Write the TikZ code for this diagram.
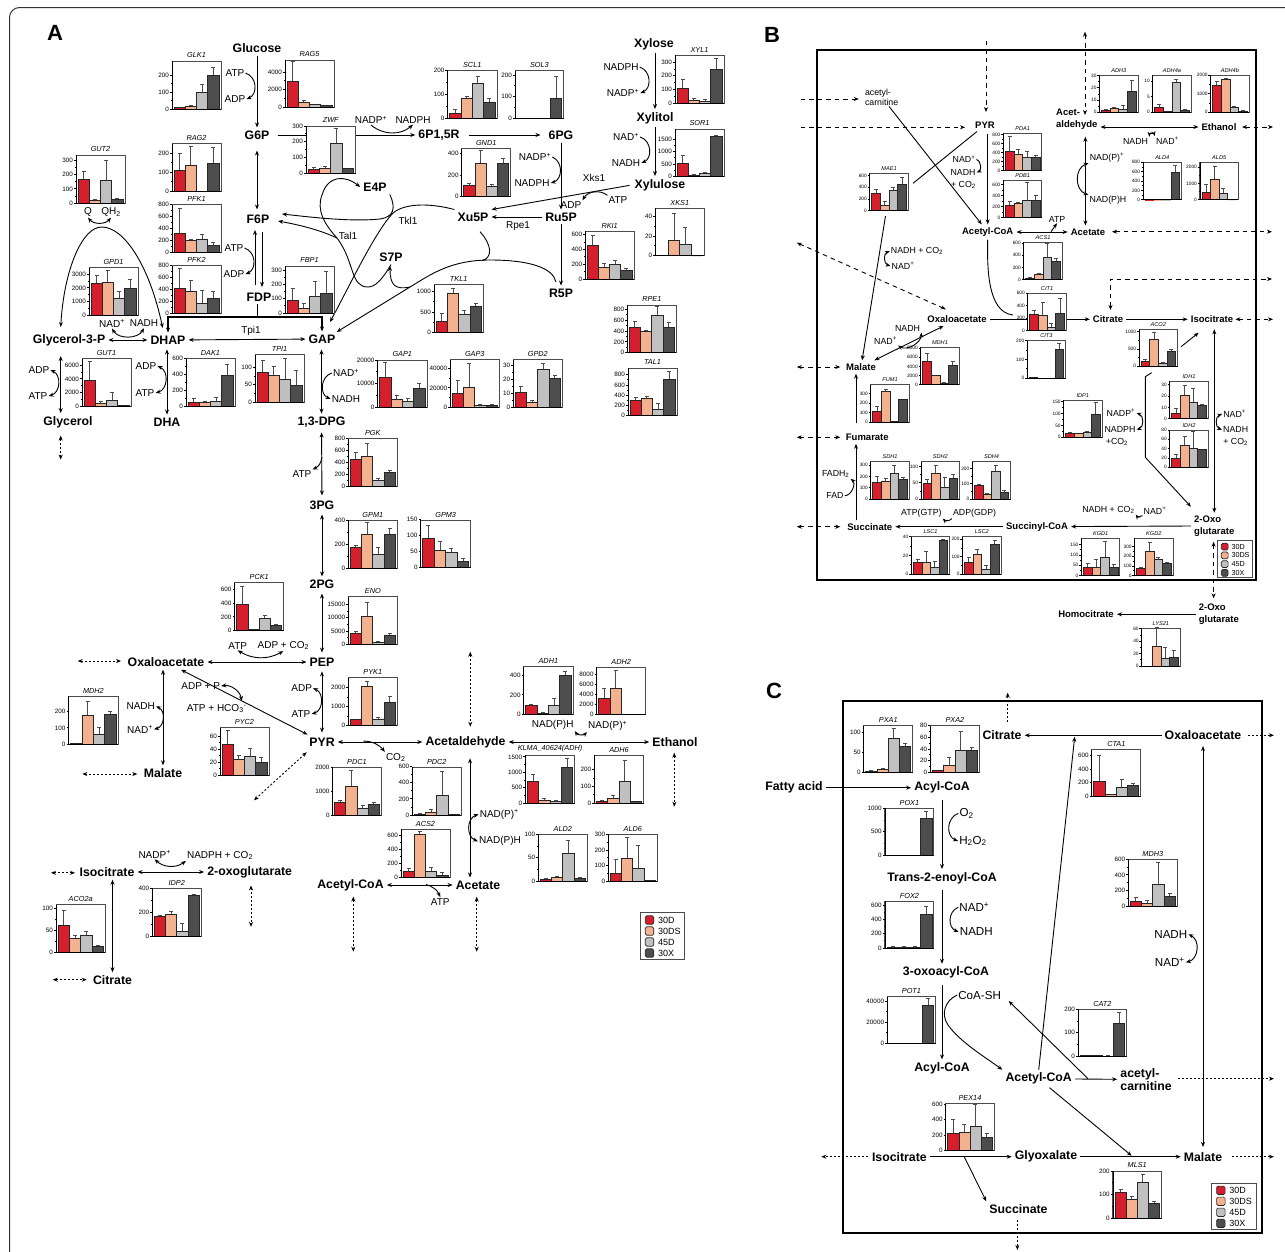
\documentclass[tikz,border=0pt]{standalone}
\usepackage{fontspec}
\setmainfont{Liberation Sans}
\usetikzlibrary{arrows.meta}

\definecolor{bar0}{HTML}{D51F2D}
\definecolor{bar1}{HTML}{F4B190}
\definecolor{bar2}{HTML}{C0C0C0}
\definecolor{bar3}{HTML}{4D4D4D}

\newcommand{\chart}[9]{%
  \begin{scope}[shift={(#3,#4)}]
    \draw[chartframe] (0,0) rectangle (#5,#6);
    \node[charttitle] (#1-title) at (#5/2,0) {#2};
    \pgfmathsetmacro{\barw}{(#5-4)/4}
    \foreach \barv/\bare [count=\n from 0] in {#9} {
      \pgfmathsetmacro{\barx}{2+\n*\barw}
      \pgfmathsetmacro{\barm}{\barx+\barw/2}
      \pgfmathsetmacro{\bartop}{#6-\barv/#7*#6}
      \pgfmathsetmacro{\errtop}{#6-\bare/#7*#6}
      \ifdim\bare pt>\barv pt
        \draw[errorbar] (\barm,\bartop) -- (\barm,\errtop) (\barm-2,\errtop) -- (\barm+2,\errtop);
      \fi
      \draw[barbox, fill=bar\n] (\barx,#6) rectangle (\barx+\barw,\bartop);
    }
    \draw[axisline] (0,0) -- (0,#6) -- (#5,#6);
    \foreach \tickv/\tickl [remember=\tickv as \lastv (initially 0)] in {#8} {
      \pgfmathsetmacro{\ticky}{#6-\tickv/#7*#6}
      \pgfmathsetmacro{\minory}{#6-(\tickv+\lastv)/2/#7*#6}
      \draw[axisline] (0,\ticky) -- (-2.2,\ticky) (0,\minory) -- (-1.2,\minory);
      \node[ticklabel] (#1-\tickl) at (-2.2,\ticky) {\tickl};
    }
  \end{scope}
}

\newcommand{\chartkey}[4]{%
  \begin{scope}[shift={(#2,#3)},scale=#4]
    \pgfmathsetmacro{\keysize}{9*#4}
    \draw[keyframe] (0,0) rectangle (44.5,46.5);
    \foreach \labl [count=\n from 0] in {30D,30DS,45D,30X} {
      \pgfmathsetmacro{\keyy}{7.3+11*\n}
      \draw[barbox, rounded corners=1.5pt, fill=bar\n] (5,\keyy-4.2) rectangle (13.5,\keyy+4.2);
      \node[anchor=west, inner sep=0pt, font=\fontsize{\keysize}{\keysize}\selectfont] (#1-\n) at (17.5,\keyy) {\labl};
    }
  \end{scope}
}

\newcommand{\freelink}[4]{%
  \coordinate (#1-a) at (#2);
  \coordinate (#1-b) at (#3);
  \draw[#4] (#1-a) -- (#1-b);
}

\begin{document}
\begin{tikzpicture}[
    x=1pt, y=-1pt,
    metab/.style={font=\fontsize{12.3}{13}\selectfont\bfseries, inner sep=3pt},
    metabb/.style={font=\fontsize{9.5}{11.6}\selectfont\bfseries, inner sep=3pt, align=left},
    cof/.style={font=\fontsize{10}{11}\selectfont, inner sep=1pt},
    cofb/.style={font=\fontsize{8.8}{10}\selectfont, inner sep=1pt},
    cofc/.style={font=\fontsize{11.6}{13}\selectfont, inner sep=1pt},
    letter/.style={font=\fontsize{22}{24}\selectfont\bfseries, inner sep=0pt},
    oneway/.style={-{Stealth[length=5pt,width=4pt]}, line width=.9pt},
    twoway/.style={{Stealth[length=5pt,width=4pt]}-{Stealth[length=5pt,width=4pt]}, line width=.9pt},
    plainline/.style={line width=.9pt},
    dashboth/.style={twoway, dash pattern=on 2pt off 2pt},
    dashone/.style={oneway, dash pattern=on 2pt off 2pt},
    longboth/.style={twoway, dash pattern=on 4.5pt off 4pt},
    longone/.style={oneway, dash pattern=on 4.5pt off 4pt},
    cofl/.style={bend left=70, looseness=1.2},
    cofr/.style={bend right=70, looseness=1.2},
    panelbox/.style={line width=2pt},
    chartframe/.style={draw=black!70, fill=white, line width=1pt},
    keyframe/.style={draw=black!70, fill=white, line width=1pt},
    axisline/.style={draw=black, line width=.8pt},
    barbox/.style={draw=black!85, line width=.7pt},
    errorbar/.style={draw=black!70, line width=.9pt},
    charttitle/.style={anchor=south, inner sep=3pt, font=\fontsize{7.3}{8}\selectfont\itshape},
    ticklabel/.style={anchor=east, inner sep=.8pt, font=\fontsize{6.3}{7}\selectfont}
  ]
  \useasboundingbox (0,0) rectangle (1285,1251);
  \draw[line width=1pt, black!80, rounded corners=10pt] (9.5,1260) -- (9.5,7.5) -- (1295,7.5);

  \node[letter] (lettera) at (55,33) {A};
  \node[letter] (letterb) at (772,35) {B};
  \node[letter] (letterc) at (774,691) {C};
  \draw[panelbox] (817,50) rectangle (1255.8,580);
  \draw[panelbox] (843,701) rectangle (1261.5,1233.3);

  \node[metab] (glucose) at (257,48) {Glucose};
  \node[metab] (g6p) at (257,135) {G6P};
  \node[metab] (f6p) at (258,219) {F6P};
  \node[metab] (fdp) at (259,297) {FDP};
  \node[metab] (gap) at (322,339) {GAP};
  \node[metab] (dhap) at (168,340) {DHAP};
  \node[metab] (g3p) at (69,340) {Glycerol-3-P};
  \node[metab] (glycerol) at (68,422) {Glycerol};
  \node[metab] (dha) at (167,422) {DHA};
  \node[metab] (dpg) at (321.5,422) {1,3-DPG};
  \node[metab] (pg3) at (322,505) {3PG};
  \node[metab] (pg2) at (322,584) {2PG};
  \node[metab] (pep) at (322,662) {PEP};
  \node[metab] (pyr) at (322,742) {PYR};
  \node[metab] (oaa) at (166,662) {Oxaloacetate};
  \node[metab] (malate) at (163,773) {Malate};
  \node[metab] (isocit) at (107,872) {Isocitrate};
  \node[metab] (oxoglut) at (249.7,872) {2-oxoglutarate};
  \node[metab] (citrate) at (112.5,980) {Citrate};
  \node[metab] (acald) at (465.5,742) {Acetaldehyde};
  \node[metab] (ethanol) at (675,742) {Ethanol};
  \node[metab] (acoa) at (350.5,885) {Acetyl-CoA};
  \node[metab] (acetate) at (478,885) {Acetate};
  \node[metab] (e4p) at (375,187) {E4P};
  \node[metab] (s7p) at (391,257) {S7P};
  \node[metab] (xu5p) at (473,217) {Xu5P};
  \node[metab] (ru5p) at (561,217) {Ru5P};
  \node[metab] (r5p) at (561,293) {R5P};
  \node[metab] (p6gl) at (439,135) {6P1,5R};
  \node[metab] (pg6) at (561,135) {6PG};
  \node[metab] (xylose) at (654,44) {Xylose};
  \node[metab] (xylitol) at (655,118) {Xylitol};
  \node[metab] (xylulose) at (660,185) {Xylulose};

  \node[cof] (atpa) at (235,73) {ATP};
  \node[cof] (adpa) at (235,99) {ADP};
  \node[cof] (atpb) at (234,248) {ATP};
  \node[cof] (adpb) at (234,274) {ADP};
  \node[cof] (nadpa) at (371,120) {NADP\textsuperscript{+}};
  \node[cof] (nadpha) at (413,120) {NADPH};
  \node[cof] (nadpb) at (535,157) {NADP\textsuperscript{+}};
  \node[cof] (nadphb) at (532,183) {NADPH};
  \node[cof] (nadphc) at (621,67) {NADPH};
  \node[cof] (nadpc) at (623,93) {NADP\textsuperscript{+}};
  \node[cof] (nada) at (626,137) {NAD\textsuperscript{+}};
  \node[cof] (nadha) at (626,163) {NADH};
  \node[cof] (xks) at (594,178) {Xks1};
  \node[cof] (atpc) at (618,200) {ATP};
  \node[cof] (adpc) at (571,205) {ADP};
  \node[cof] (rpe) at (518,226) {Rpe1};
  \node[cof] (tkl) at (408,221) {Tkl1};
  \node[cof] (tal) at (348,236) {Tal1};
  \node[cof] (tpi) at (251,331) {Tpi1};
  \node[cof] (q) at (88,212) {Q};
  \node[cof] (qh) at (111,212) {QH\textsubscript{2}};
  \node[cof] (nadb) at (112,323.5) {NAD\textsuperscript{+}};
  \node[cof] (nadhb) at (144,323.5) {NADH};
  \node[cof] (adpd) at (39,370) {ADP};
  \node[cof] (atpd) at (38,396) {ATP};
  \node[cof] (adpe) at (146,366) {ADP};
  \node[cof] (atpe) at (145,393) {ATP};
  \node[cof] (nadc) at (346,373) {NAD\textsuperscript{+}};
  \node[cof] (nadhc) at (346,399) {NADH};
  \node[cof] (atpf) at (302,474) {ATP};
  \node[cof] (atpg) at (237.7,645.7) {ATP};
  \node[cof] (adpg) at (283.3,645.7) {ADP + CO\textsubscript{2}};
  \node[cof] (adph) at (301.7,688.2) {ADP};
  \node[cof] (atph) at (301,714) {ATP};
  \node[cof] (adpi) at (200.7,686) {ADP + P};
  \node[cof] (atpi) at (216.7,708.6) {ATP + HCO\textsubscript{3}\textsuperscript{-}};
  \node[cof] (nadhd) at (140.7,706.3) {NADH};
  \node[cof] (nadd) at (140,729.3) {NAD\textsuperscript{+}};
  \node[cof] (nadpd) at (154.7,854.3) {NADP\textsuperscript{+}};
  \node[cof] (nadphd) at (220,855.4) {NADPH + CO\textsubscript{2}};
  \node[cof] (cotwo) at (395.7,757.3) {CO\textsubscript{2}};
  \node[cof] (nadpe) at (499.3,814.3) {NAD(P)\textsuperscript{+}};
  \node[cof] (nadphe) at (500,841.3) {NAD(P)H};
  \node[cof] (atpj) at (440.3,901.7) {ATP};
  \node[cof] (nadphf) at (552.7,725.3) {NAD(P)H};
  \node[cof] (nadpf) at (607.7,726) {NAD(P)\textsuperscript{+}};

  \draw[oneway] (glucose) -- (g6p);
  \draw[oneway, shorten <=5pt] (g6p) -- (p6gl);
  \draw[oneway, shorten <=6pt, shorten >=5pt] (p6gl) -- (pg6);
  \draw[oneway] (pg6) -- (ru5p);
  \draw[oneway] (ru5p) -- (xu5p);
  \draw[oneway] (ru5p) -- (r5p);
  \draw[oneway] (xylose.south -| xylitol) -- (xylitol);
  \draw[oneway] (xylitol) -- (xylulose.north -| xylitol);
  \draw[oneway, shorten <=2pt] (xylulose.west) -- (xu5p.north east);
  \draw[twoway, shorten <=8pt, shorten >=2pt] (g6p) -- (f6p.north -| g6p);
  \coordinate (fdpup) at (255,285);
  \coordinate (fdpupend) at (255,230);
  \draw[oneway] (fdpup) -- (fdpupend);
  \coordinate (fdpdown) at (262,232);
  \coordinate (fdpdownend) at (262,287);
  \draw[oneway] (fdpdown) -- (fdpdownend);
  \coordinate (fdpjoin) at (257,317);
  \draw[plainline] (fdp.south -| fdpjoin) -- (fdpjoin);
  \draw[oneway, line width=1.1pt] (fdpjoin) -| (dhap.north);
  \draw[oneway, line width=1.1pt] (fdpjoin) -| (gap.north);
  \draw[twoway] (g3p) -- (dhap);
  \draw[twoway] (dhap) -- (gap);
  \coordinate (glycv) at (60.7,356);
  \draw[twoway] (glycv) -- (glycv |- glycerol.north);
  \draw[twoway, shorten <=2pt] (dhap.south -| dha) -- (dha);
  \draw[twoway, shorten <=3pt] (gap.south -| dpg) -- (dpg);
  \draw[twoway, shorten <=2pt, shorten >=2pt] (dpg) -- (pg3);
  \draw[twoway, shorten <=2pt] (pg3) -- (pg2);
  \draw[twoway, shorten <=2pt, shorten >=2pt] (pg2) -- (pep);
  \draw[twoway, shorten <=2pt, shorten >=2pt] (pep) -- (pyr);
  \draw[twoway] (oaa) -- (pep);
  \draw[twoway] (oaa) -- (pyr);
  \draw[twoway] (pyr) -- (acald);
  \draw[twoway] (oaa.south -| malate) -- (malate);
  \draw[twoway] (isocit) -- (oxoglut);
  \draw[twoway] (isocit.south -| citrate) -- (citrate);
  \draw[twoway] (acoa) -- (acetate);
  \draw[twoway] (acald) -- (ethanol);
  \coordinate (acaldv) at (470,758.3);
  \draw[twoway] (acaldv) -- (acaldv |- acetate.north);

  \draw[oneway] (atpa.east) to[cofl] (adpa.east);
  \draw[oneway] (atpb.east) to[cofl] (adpb.east);
  \draw[oneway] (nadpa.south) to[bend right=40] (nadpha.south);
  \draw[oneway] (nadpb.east) to[cofl] (nadphb.east);
  \draw[oneway] (nadphc.east) to[cofl] (nadpc.east);
  \draw[oneway] (nada.east) to[cofl] (nadha.east);
  \draw[oneway] (atpc.north west) to[bend right=50] (adpc.north east);
  \draw[twoway] (q.south) to[bend right=50] (qh.south);
  \draw[twoway] (nadb.south) to[bend right=60] (nadhb.south);
  \draw[twoway] (adpd.east) to[cofl] (atpd.east);
  \draw[twoway] (adpe.east) to[cofl] (atpe.east);
  \draw[oneway] (nadc.west) to[cofr] (nadhc.west);
  \coordinate (atpfstart) at (322,457);
  \draw[oneway] (atpfstart) to[bend left=30] (atpf.north east);
  \draw[twoway] (atpg.south) to[bend right=30] (adpg.south);
  \draw[twoway] (adph.east) to[cofl] (atph.east);
  \coordinate (atpiin) at (241.7,701);
  \draw[twoway] (adpi.east) to[bend left=45] (atpiin);
  \draw[twoway] (nadhd.east) to[cofl] (nadd.east);
  \draw[twoway] (nadpd.south) to[bend right=40] (nadphd.south west);
  \coordinate (cotwostart) at (363.3,741);
  \draw[oneway] (cotwostart) to[bend left=25] (cotwo.north west);
  \draw[twoway] (nadpe.west) to[cofr] (nadphe.west);
  \coordinate (atpjstart) at (426,884.5);
  \draw[oneway] (atpjstart) to[bend left=25] (atpj.north);
  \draw[twoway] (nadphf.south east) to[bend right=50] (nadpf.south west);

  \coordinate (g3ptop) at (60.7,327);
  \coordinate (dhaptop) at (162.7,328);
  \draw[twoway] (g3ptop) .. controls (64,270) and (82,227) .. (101.7,227) .. controls (125,227) and (150,268) .. (dhaptop);
  \coordinate (f6pa) at (282,214);
  \coordinate (f6pb) at (278,221);
  \coordinate (gapa) at (330,322);
  \coordinate (gapb) at (336.7,332);
  \coordinate (talbr) at (337,238);
  \coordinate (r5pout) at (556,282);
  \coordinate (xuout) at (480,231.7);
  \coordinate (xujoin) at (481.7,260.7);
  \coordinate (s7pjoin) at (410,287);
  \coordinate (s7pin) at (390,266);
  \draw[oneway] (xu5p.north west) .. controls (430,203) and (405,203) .. (393,213) .. controls (375,232) and (350,285) .. (gapa);
  \draw[oneway] (e4p.south east) .. controls (396,208) and (394,217) .. (380,219) .. controls (350,222) and (310,217) .. (f6pa);
  \draw[oneway] (s7p.south) .. controls (382,280) and (375,287) .. (368,287) .. controls (350,287) and (355,262) .. (talbr) .. controls (325,225) and (316,210) .. (322,195) .. controls (328,175) and (345,175) .. (e4p.west);
  \draw[oneway] (talbr) .. controls (320,230) and (300,225) .. (f6pb);
  \draw[oneway] (r5pout) .. controls (553,268) and (530,260) .. (490,260) .. controls (450,260) and (430,275) .. (s7pjoin) -- (gapb);
  \draw[plainline] (xuout) .. controls (492,245) and (493,258) .. (xujoin);
  \draw[oneway] (s7pjoin) .. controls (395,290) and (390,285) .. (s7pin);

  \freelink{glydash}{60.7,435.5}{60.7,459.6}{dashboth}
  \freelink{oaadash}{77.7,661}{121,661}{dashboth}
  \freelink{maldash}{82.3,774}{137.3,774}{dashboth}
  \freelink{pyrdash}{306.7,752.2}{254,800.3}{dashboth}
  \freelink{isodash}{51,872.8}{75,872.8}{dashboth}
  \freelink{citdash}{52.7,979.7}{86.7,979.7}{dashboth}
  \freelink{oxodash}{251,885.4}{251,926.8}{dashboth}
  \freelink{coadash}{353.3,896.5}{353.3,951.6}{dashboth}
  \freelink{acedash}{476.7,896.7}{476.7,951.7}{dashboth}
  \freelink{alddash}{470.3,651.7}{470.3,726.7}{dashboth}
  \freelink{etodash}{674.3,752.7}{674.3,806.7}{dashboth}

  \chart{glk1}{GLK1}{172}{61}{49}{48}{282}{0/0,100/100,200/200}{8/12,15/18,100/145,200/245}
  \chart{rag5}{RAG5}{285}{60}{49}{47}{5400}{0/0,2000/2000,4000/4000}{3000/5200,500/700,250/300,150/200}
  \chart{zwf}{ZWF}{306}{126}{49.5}{47}{300}{0/0,100/100,200/200,300/300}{25/35,30/40,190/285,28/32}
  \chart{gut2}{GUT2}{76}{155}{49}{48}{340}{0/0,100/100,200/200,300/300}{170/220,20/28,160/300,28/35}
  \chart{rag2}{RAG2}{172}{143.5}{49}{47.5}{250}{0/0,100/100,200/200}{110/200,135/237,0/0,148/230}
  \chart{pfk1}{PFK1}{172}{204.5}{49}{47.5}{800}{0/0,200/200,400/400,600/600,800/800}{320/740,190/210,215/295,120/155}
  \chart{pfk2}{PFK2}{172}{265.5}{49}{47.5}{800}{0/0,200/200,400/400,600/600,800/800}{410/750,360/540,160/385,250/355}
  \chart{fbp1}{FBP1}{285}{266}{49}{47}{330}{0/0,100/100,200/200,300/300}{90/172,35/68,115/220,140/295}
  \chart{gpd1}{GPD1}{89}{267.5}{49}{47.5}{3500}{0/0,1000/1000,2000/2000,3000/3000}{2300/2900,2400/3250,1200/1750,1950/2650}
  \chart{gut1}{GUT1}{82}{358.5}{49}{47.5}{7000}{0/0,2000/2000,4000/4000,6000/6000}{3800/6500,350/600,800/2000,50/100}
  \chart{dak1}{DAK1}{186}{358.5}{49}{47.5}{600}{0/0,200/200,400/400,600/600}{45/100,45/60,65/105,385/530}
  \chart{tpi1}{TPI1}{255}{354.5}{49}{47.5}{137}{0/0,50/50,100/100}{86/120,78/103,66/126,47/92}
  \chart{gap1}{GAP1}{377.5}{360}{49.5}{47}{20}{0/0,10/10000,20/20000}{12.5/18.8,3.3/4.8,2.6/3.5,8/10.2}
  \chart{scl1}{SCL1}{447.5}{70.7}{49.5}{47.6}{200}{0/0,100/100,200/200}{22/37,85/90,148/175,65/85}
  \chart{sol3}{SOL3}{515}{70.7}{48.7}{47.6}{220}{0/0,100/100,200/200}{0/0,0/0,0/0,90/195}
  \chart{gnd1}{GND1}{461.7}{148.7}{49}{47.6}{445}{0/0,200/200,400/400}{100/122,310/425,90/115,305/358}
  \chart{xyl1}{XYL1}{675}{55.3}{49}{47.7}{350}{0/0,100/100,200/200,300/300}{105/170,22/30,12/28,248/330}
  \chart{sor1}{SOR1}{675}{129}{49}{47.7}{1900}{0/0,500/500,1000/1000,1500/1500}{530/830,50/70,130/150,1590/1650}
  \chart{xks1}{XKS1}{655.3}{208.3}{49}{47.4}{48}{0/0,20/20,40/40}{.3/.5,16/43,11/29,0/0}
  \chart{rki1}{RKI1}{585.3}{231.3}{48.7}{47.7}{645}{0/0,200/200,400/400,600/600}{460/590,160/205,200/250,120/145}
  \chart{tkl1}{TKL1}{434}{284.7}{49.3}{47.6}{1170}{0/0,500/500,1000/1000}{270/460,950/1070,430/530,640/720}
  \chart{rpe1}{RPE1}{627.3}{305}{49}{47.7}{880}{0/0,200/200,400/400,600/600,800/800}{470/580,390/415,680/860,470/550}
  \chart{tal1}{TAL1}{628}{368}{49}{47.7}{930}{0/0,200/200,400/400,600/600,800/800}{300/355,330/375,130/235,710/860}
  \chart{gap3}{GAP3}{450.3}{359.7}{49}{47.6}{49}{0/0,20/20000,40/40000}{14.5/28,20.8/45,2/2.7,2/2.7}
  \chart{gpd2}{GPD2}{513.3}{359.7}{49}{47.6}{34}{0/0,10/10,20/20,30/30}{10.5/15,3.5/5,27/31,20.5/22.5}
  \chart{pgk}{PGK}{348.3}{438.5}{49}{48}{800}{0/0,200/200,400/400,600/600,800/800}{450/570,500/720,100/140,230/260}
  \chart{gpm1}{GPM1}{348.3}{520.3}{49}{47.7}{400}{0/0,200/200,400/400}{175/188,285/380,112/172,285/330}
  \chart{gpm3}{GPM3}{420.7}{520.3}{50}{47.4}{147}{0/0,50/50,100/100,150/150}{90/130,55/82,48/60,20/28}
  \chart{eno}{ENO}{348.3}{596.8}{49}{47.8}{17.8}{0/0,5/5000,10/10000,15/15000}{4.3/5,10.7/15.7,.9/1.2,3.6/4.1}
  \chart{pck1}{PCK1}{234.7}{582.8}{49}{47.7}{700}{0/0,200/200,400/400,600/600}{390/650,15/20,175/215,80/90}
  \chart{pyk1}{PYK1}{348.3}{677.9}{49}{47.7}{2500}{0/0,1000/1000,2000/2000}{320/340,2050/2300,350/420,1200/1550}
  \chart{mdh2}{MDH2}{68.7}{696.4}{49.3}{48}{290}{0/0,100/100,200/200}{5/7,175/258,58/105,182/198}
  \chart{pyc2}{PYC2}{220}{727.8}{49}{47.4}{73}{0/0,20/20,40/40,60/60}{48/69,24/30,29/41,20/28}
  \chart{pdc1}{PDC1}{332.7}{767.8}{48.5}{47.7}{2000}{0/0,1000/1000,2000/2000}{540/650,1230/1870,280/420,480/530}
  \chart{aco2a}{ACO2a}{56}{904.6}{49.3}{47.4}{108}{0/0,50/50,100/100}{61/95,32/37,39/47,14/15}
  \chart{idp2}{IDP2}{152.3}{888.4}{49}{48}{400}{0/0,200/200,400/400}{168/175,188/205,40/105,342/350}
  \chart{adh1}{ADH1}{523.7}{666.7}{49.3}{47.6}{490}{0/0,200/200,400/400}{95/105,12/18,90/165,400/445}
  \chart{adh2}{ADH2}{596.7}{667.3}{49}{47.4}{9400}{0/0,2000/2000,4000/4000,6000/6000,8000/8000}{3300/5300,5300/8700,100/150,50/70}
  \chart{klma}{KLMA\_40624(ADH)}{525.3}{755.3}{49.4}{47.7}{1550}{0/0,500/500,1000/1000,1500/1500}{700/920,100/150,50/90,1170/1440}
  \chart{adh6}{ADH6}{594.3}{755.3}{49.4}{47.7}{285}{0/0,100/100,200/200}{10/13,25/48,130/255,8/12}
  \chart{pdc2}{PDC2}{412.3}{767.3}{49}{47.7}{590}{0/0,200/200,400/400,600/600}{12/18,30/65,240/535,7/10}
  \chart{acs2}{ACS2}{401}{829.3}{49}{47.7}{690}{0/0,200/200,400/400,600/600}{75/130,615/655,75/135,30/60}
  \chart{ald2}{ALD2}{538.3}{834.3}{49}{47}{100}{0/0,50/50,100/100}{5/7,8/10,60/88,7/9}
  \chart{ald6}{ALD6}{608.3}{834.3}{49}{47}{300}{0/0,100/100,200/200,300/300}{50/140,145/280,85/228,3/5}
  \chartkey{keya}{640.3}{912.7}{1}

  \node[metabb] (bpyr) at (985,125) {PYR};
  \node[cofb, align=left, anchor=west] (bcarn) at (863.8,97) {acetyl-\\carnitine};
  \node[metabb, anchor=west] (bacald) at (1053,119) {Acet-\\aldehyde};
  \node[metabb] (bethanol) at (1219,127) {Ethanol};
  \node[metabb] (bacoa) at (987.7,232) {Acetyl-CoA};
  \node[metabb] (bacetate) at (1088,232) {Acetate};
  \node[metabb] (boaa) at (957,319.3) {Oxaloacetate};
  \node[metabb] (bcitrate) at (1108,319.3) {Citrate};
  \node[metabb] (bisocit) at (1212,319.3) {Isocitrate};
  \node[metabb] (bmalate) at (861,367) {Malate};
  \node[metabb] (bfum) at (867.3,437.3) {Fumarate};
  \node[metabb] (bsucc) at (869.8,526.7) {Succinate};
  \node[metabb] (bscoa) at (1037,526.7) {Succinyl-CoA};
  \node[metabb, anchor=west] (boxoa) at (1191,526) {2-Oxo\\glutarate};
  \node[metabb, anchor=west] (boxob) at (1195.6,614.3) {2-Oxo\\glutarate};
  \node[metabb] (bhomo) at (1086,614.3) {Homocitrate};

  \node[cofb] (bnada) at (964,159.3) {NAD\textsuperscript{+}};
  \node[cofb] (bnadha) at (963,172.3) {NADH};
  \node[cofb] (bcoa) at (963.5,184.7) {+ CO\textsubscript{2}};
  \node[cofb] (bnadhb) at (1135.6,141) {NADH};
  \node[cofb] (bnadb) at (1167.4,141) {NAD\textsuperscript{+}};
  \node[cofb] (bnadpa) at (1107,157.3) {NAD(P)\textsuperscript{+}};
  \node[cofb] (bnadpha) at (1108,200.3) {NAD(P)H};
  \node[cofb] (batpa) at (1057,219) {ATP};
  \node[cofb] (bnadhc) at (917,251) {NADH + CO\textsubscript{2}};
  \node[cofb] (bnadc) at (903,266) {NAD\textsuperscript{+}};
  \node[cofb] (bnadhd) at (907.6,328.3) {NADH};
  \node[cofb] (bnadd) at (885.5,340.7) {NAD\textsuperscript{+}};
  \node[cofb] (bnadpb) at (1121,413) {NADP\textsuperscript{+}};
  \node[cofb] (bnadphb) at (1120,429.7) {NADPH};
  \node[cofb] (bcob) at (1117,442) {+CO\textsubscript{2}};
  \node[cofb] (bnade) at (1234.7,414) {NAD\textsuperscript{+}};
  \node[cofb] (bnadhe) at (1235.7,429.7) {NADH};
  \node[cofb] (bcoc) at (1235.7,442) {+ CO\textsubscript{2}};
  \node[cofb] (bfadh) at (835.7,474) {FADH\textsubscript{2}};
  \node[cofb] (bfad) at (835,495.7) {FAD};
  \node[cofb] (batpb) at (921.4,513.3) {ATP(GTP)};
  \node[cofb] (badpb) at (974.6,513.3) {ADP(GDP)};
  \node[cofb] (bnadhf) at (1108.4,509.7) {NADH + CO\textsubscript{2}};
  \node[cofb] (bnadf) at (1155,510.7) {NAD\textsuperscript{+}};

  \freelink{bpyrdash}{986,40.7}{986,112}{longone}
  \freelink{bleftdash}{800.8,127.3}{965,127.3}{longone}
  \freelink{bcarndash}{800.8,99}{858.8,99}{longone}
  \freelink{bupdash}{1085,31.7}{1085,115}{longboth}
  \freelink{betodash}{1242,127}{1273,127}{longboth}
  \freelink{bacedash}{1112,231.7}{1272,231.7}{longboth}
  \freelink{boaadash}{796.8,242.7}{945.8,309.3}{longboth}
  \freelink{bisodash}{1235.4,319.3}{1273,319.3}{longboth}
  \freelink{bmaldash}{796.8,367}{840.3,367}{longboth}
  \freelink{bfumdash}{796.8,437.3}{840.3,437.3}{longboth}
  \freelink{bsucdash}{796.8,526.7}{840.3,526.7}{longboth}
  \freelink{boxodash}{1213.6,541.7}{1213.6,598.3}{longboth}
  \coordinate (bcitup) at (1110.5,310);
  \coordinate (bcitright) at (1272,279);
  \draw[longboth] (bcitup) -- (bcitup |- bcitright) -- (bcitright);

  \draw[oneway] (bcarn) -- (bacoa);
  \coordinate (bmaetop) at (913,183.3);
  \draw[plainline] (bpyr) -- (bmaetop);
  \coordinate (bmaebot) at (885.5,216);
  \draw[oneway] (bmaebot) -- (bmalate);
  \draw[oneway, shorten <=3pt] (bpyr.south -| bacoa) -- (bacoa);
  \draw[twoway] (bacald.east |- bethanol) -- (bethanol);
  \coordinate (bacetv) at (1085.4,136.7);
  \draw[twoway] (bacetv) -- (bacetv |- bacetate.north);
  \draw[twoway] (bacoa) -- (bacetate);
  \coordinate (bciti) at (1012.8,315);
  \draw[plainline] (bacoa.south) .. controls (987,270) and (988,312) .. (bciti);
  \draw[oneway] (boaa) -- (bcitrate);
  \draw[oneway] (bcitrate) -- (bisocit);
  \draw[twoway] (bmalate) -- (boaa);
  \coordinate (bfumtop) at (856,423.3);
  \draw[oneway] (bfumtop) -- (bfumtop |- bmalate.south);
  \draw[oneway] (bsucc.north -| bfumtop) -- (bfum.south -| bfumtop);
  \draw[oneway] (bscoa) -- (bsucc);
  \draw[oneway] (boxoa.west) -- (bscoa);
  \coordinate (bisov) at (1214.3,329.3);
  \draw[twoway] (bisov) -- (bisov |- boxoa.north);
  \draw[oneway] (boxob.west) -- (bhomo);
  \coordinate (bacoaa) at (1181,346.7);
  \coordinate (bacoab) at (1198.6,332.7);
  \draw[oneway] (bacoaa) -- (bacoab);
  \coordinate (bidha) at (1151.7,372.7);
  \coordinate (bidhb) at (1145.3,376.7);
  \coordinate (bidhc) at (1145.3,457.3);
  \coordinate (bidhd) at (1190.9,506.7);
  \draw[oneway] (bidha) -- (bidhb) -- (bidhc) -- (bidhd);

  \draw[oneway] (bnada.east) to[bend left=70] (bnadha.east);
  \draw[twoway] (bnadhb.north east) to[bend left=80, looseness=1.4] (bnadb.north west);
  \draw[twoway] (bnadpa.south west) to[cofr] (bnadpha.north west);
  \coordinate (batpstart) at (1051,231.7);
  \draw[oneway] (batpstart) -- (batpa.south);
  \draw[twoway] (bnadhc.west) to[bend right=70, looseness=1.2] (bnadc.west);
  \draw[twoway] (bnadd.south east) to[bend right=60] (bnadhd.south east);
  \draw[twoway] (bnadpb.east) to[cofl] (bnadphb.east);
  \draw[twoway] (bnade.west) to[cofr] (bnadhe.west);
  \draw[oneway] (bfad.east) to[bend right=70] (bfadh.south east);
  \draw[oneway] (badpb.south west) to[bend left=45] (batpb.south east);
  \draw[oneway] (bnadf.south west) to[bend left=45] (bnadhf.south east);

  \begin{scope}[
      charttitle/.style={anchor=south, inner sep=2.5pt, font=\fontsize{5.6}{6}\selectfont\itshape},
      ticklabel/.style={anchor=east, inner sep=.6pt, font=\fontsize{4.8}{5}\selectfont}
    ]
    \chart{adh3}{ADH3}{1099.5}{75}{38.5}{37.3}{30.5}{0/0,10/10,20/20,30/30}{1.5/2.5,3.5/4,2.5/6,17.5/26}
    \chart{adh4a}{ADH4a}{1152.7}{75}{38.5}{37.3}{12}{0/0,5/5,10/10}{1.5/2.5,.2/.3,9.5/10.5,.7/.8}
    \chart{adh4b}{ADH4b}{1210.6}{75}{38.5}{37.3}{2000}{0/0,1000/1000,2000/2000}{1450/1630,1780/1830,240/320,60/80}
    \chart{pda1}{PDA1}{1003.4}{133.3}{38.5}{37.4}{830}{0/0,200/200,400/400,600/600,800/800}{430/770,360/470,300/420,290/330}
    \chart{pdb1}{PDB1}{1003.4}{180.3}{38.5}{37.4}{680}{0/0,200/200,400/400,600/600}{225/300,265/280,320/640,320/410}
    \chart{mae1}{MAE1}{869.8}{173.3}{38.5}{37.4}{640}{0/0,200/200,400/400,600/600}{305/360,85/160,350/390,455/570}
    \chart{ald4}{ALD4}{1143}{162.3}{38.5}{37.4}{800}{0/0,200/200,400/400,600/600,800/800}{3/3,3/3,3/3,580/730}
    \chart{ald5}{ALD5}{1199.9}{162.3}{38.5}{37.4}{2300}{0/0,1000/1000,2000/2000}{480/950,1250/2050,380/680,0/0}
    \chart{acs1}{ACS1}{1023.8}{242.3}{38.5}{37.4}{610}{0/0,200/200,400/400,600/600}{25/30,90/95,365/590,305/350}
    \chart{cit1}{CIT1}{1027.8}{293.3}{38.5}{37.4}{600}{0/0,200/200,400/400,600/600}{260/330,240/450,50/120,285/525}
    \chart{aco2}{ACO2}{1139}{329}{38.5}{37.3}{1080}{0/0,500/500,1000/1000}{130/190,790/980,100/110,430/490}
    \chart{cit3}{CIT3}{1027.2}{340.7}{38.5}{37.3}{200}{0/0,100/100,200/200}{1/1,0/0,0/0,155/183}
    \chart{mdh1}{MDH1}{920.7}{347.3}{38.5}{37.4}{8200}{0/0,2000/2000,4000/4000,6000/6000,8000/8000}{5100/6900,2000/2100,400/450,4300/5200}
    \chart{fum1}{FUM1}{870.8}{384.7}{38.5}{37.3}{395}{0/0,100/100,200/200,300/300}{110/165,320/350,2/3,235/240}
    \chart{idp1}{IDP1}{1063.6}{400}{38.5}{37.3}{157}{0/0,50/50,100/100,150/150}{18/20,15/17,20/24,95/147}
    \chart{idh1}{IDH1}{1169.8}{381.3}{38.5}{37.4}{33}{0/0,10/10,20/20,30/30}{5/9,21/29.5,14.5/27,11.5/13}
    \chart{idh2}{IDH2}{1169.8}{430}{38.5}{37.3}{80}{0/0,20/20,40/40,60/60,80/80}{20/27,48/67,40/77,38/39}
    \chart{sdh1}{SDH1}{870.8}{461.7}{38.5}{37.3}{330}{0/0,100/100,200/200,300/300}{145/200,155/185,225/295,175/188}
    \chart{sdh2}{SDH2}{921}{461.7}{38.5}{37.3}{115}{0/0,50/50,100/100}{47/60,78/105,35/68,63/77}
    \chart{sdh4}{SDH4}{972.3}{461.7}{38.5}{37.3}{245}{0/0,100/100,200/200}{88/93,32/36,180/222,47/53}
    \chart{lsc1}{LSC1}{911.3}{536.7}{38.5}{37.3}{40}{0/0,20/20,40/40}{12.5/16,13/24.5,7.5/14,36/37.5}
    \chart{lsc2}{LSC2}{962.5}{536.7}{38.5}{37.3}{215}{0/0,100/100,200/200}{70/95,115/140,25/50,170/195}
    \chart{kgd1}{KGD1}{1081.4}{538.3}{38.5}{37.4}{180}{0/0,50/50,100/100,150/150}{38/58,42/80,88/165,42/55}
    \chart{kgd2}{KGD2}{1134.6}{538.3}{38.5}{37.4}{385}{0/0,100/100,200/200,300/300}{75/80,255/345,165/190,130/135}
    \chart{lys21}{LYS21}{1141.6}{628.7}{38.5}{37.3}{60}{0/0,20/20,40/40,60/60}{0/0,32/62,12/30,14/25}
  \end{scope}
  \chartkey{keyb}{1217.3}{540.7}{.8}

  \node[metab] (ccitrate) at (1002,735.3) {Citrate};
  \node[metab] (coaa) at (1203,735.3) {Oxaloacetate};
  \node[metab] (cfatty) at (794,787.7) {Fatty acid};
  \node[metab] (cacyl) at (942,787.7) {Acyl-CoA};
  \node[metab] (ctrans) at (942,878) {Trans-2-enoyl-CoA};
  \node[metab] (coxo) at (946,972.7) {3-oxoacyl-CoA};
  \node[metab] (cacylb) at (942,1068.3) {Acyl-CoA};
  \node[metab] (cacoa) at (1038.7,1078.7) {Acetyl-CoA};
  \node[metab, anchor=west, align=left] (ccarn) at (1117.2,1079.3) {acetyl-\\carnitine};
  \node[metab] (cisocit) at (899.4,1156.7) {Isocitrate};
  \node[metab] (cglyox) at (1046,1156.7) {Glyoxalate};
  \node[metab] (cmalate) at (1203,1156.7) {Malate};
  \node[metab] (csucc) at (1018.5,1209) {Succinate};

  \node[cofc] (coo) at (966.6,813.3) {O\textsubscript{2}};
  \node[cofc] (choo) at (973,841) {H\textsubscript{2}O\textsubscript{2}};
  \node[cofc] (cnada) at (974.3,907.3) {NAD\textsuperscript{+}};
  \node[cofc] (cnadha) at (976.3,931.7) {NADH};
  \node[cofc] (ccoash) at (979.6,995) {CoA-SH};
  \node[cofc] (cnadhb) at (1170.8,934.3) {NADH};
  \node[cofc] (cnadb) at (1169.8,962.3) {NAD\textsuperscript{+}};

  \draw[oneway] (coaa) -- (ccitrate);
  \draw[oneway] (cfatty) -- (cacyl);
  \draw[oneway, shorten <=3pt] (cacyl) -- (ctrans);
  \draw[oneway, shorten <=3pt] (ctrans) -- (ctrans |- coxo.north);
  \draw[oneway, shorten <=3pt] (coxo.south -| cacylb) -- (cacylb);
  \draw[oneway] (cacoa) -- (ccarn.west);
  \coordinate (ccoajoin) at (1088,1078.7);
  \coordinate (ccoaend) at (1008.7,1001);
  \draw[oneway] (ccoajoin) -- (ccoaend);
  \coordinate (ccitjoin) at (1074.7,736.7);
  \draw[oneway] (cacoa.north) -- (ccitjoin);
  \draw[twoway, shorten <=3pt, shorten >=2pt] (coaa) -- (cmalate);
  \coordinate (cmlsend) at (1131.6,1155.7);
  \draw[oneway] (cacoa) -- (cmlsend);
  \draw[oneway] (cisocit) -- (cglyox);
  \coordinate (csucjoin) at (964.2,1156.7);
  \draw[oneway] (csucjoin) -- (csucc.north west);
  \draw[oneway] (cglyox) -- (cmalate);
  \draw[oneway] (coo.west) to[cofr] (choo.west);
  \draw[oneway] (cnada.west) to[cofr] (cnadha.west);
  \draw[twoway] (cnadhb.east) to[cofl] (cnadb.east);
  \draw[oneway] (ccoash.west) .. controls (944,1001) and (941,1015) .. (948,1025) .. controls (960,1042) and (985,1057) .. (cacoa.north west);

  \freelink{ccitdash}{1007.7,721.7}{1007.7,692.7}{dashone}
  \freelink{coaadash}{1247.8,735.3}{1273.9,735.3}{dashone}
  \freelink{ccardash}{1177.8,1078.7}{1273.9,1078.7}{dashone}
  \freelink{cisodash}{867.8,1156.7}{821.3,1156.7}{dashone}
  \freelink{cmaldash}{1232,1156.7}{1273.9,1156.7}{dashone}
  \freelink{csucdash}{1017.4,1220}{1017.4,1250}{dashone}

  \chart{pxa1}{PXA1}{863.8}{725.7}{49}{46.6}{118}{0/0,50/50,100/100}{2/4,7/10,87/110,65/72}
  \chart{pxa2}{PXA2}{930.4}{725.7}{49}{46.6}{80}{0/0,20/20,40/40,60/60,80/80}{3/4,12/26,37/70,38/43}
  \chart{pox1}{POX1}{884.9}{808.3}{49}{46.7}{1000}{0/0,500/500,1000/1000}{1/1,1/1,1/1,790/930}
  \chart{fox2}{FOX2}{884.9}{901.3}{49}{46.7}{650}{0/0,200/200,400/400,600/600}{10/15,15/20,10/15,470/580}
  \chart{cta1}{CTA1}{1091.8}{749.7}{49}{46.6}{690}{0/0,200/200,400/400,600/600}{225/610,25/30,135/250,165/195}
  \chart{mdh3}{MDH3}{1128.3}{859.3}{49}{46.7}{600}{0/0,200/200,400/400,600/600}{60/115,35/75,280/555,120/165}
  \chart{pot1}{POT1}{887.2}{996.7}{48.5}{46.6}{44}{0/0,20/20000,40/40000}{0/0,0/0,0/0,36/42}
  \chart{cat2}{CAT2}{1078}{1009.3}{48.7}{47}{200}{0/0,100/100,200/200}{3/5,3/3,1/2,140/185}
  \chart{pex14}{PEX14}{945.8}{1103.7}{48.3}{46.6}{605}{0/0,200/200,400/400,600/600}{225/400,235/335,305/600,170/225}
  \chart{mls1}{MLS1}{1112.9}{1171}{48.7}{47}{200}{0/0,100/100,200/200}{110/122,80/90,152/185,62/70}
  \chartkey{keyc}{1211.6}{1183}{1}
\end{tikzpicture}
\end{document}
